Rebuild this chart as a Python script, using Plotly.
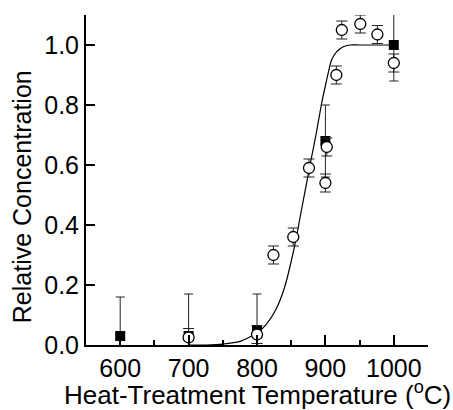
import plotly.graph_objects as go

# Filled squares
sq_x = [600, 700, 800, 900, 1000]
sq_y = [0.03, 0.03, 0.05, 0.68, 1.00]
sq_err = [0.13, 0.14, 0.12, 0.12, 0.12]

# Open circles
circ_x = [700, 800, 824, 853, 876, 902, 900, 916, 924, 951, 976, 1000]
circ_y = [0.025, 0.035, 0.30, 0.36, 0.59, 0.66, 0.54, 0.90, 1.05, 1.07, 1.035, 0.94]
circ_err = [0.03, 0.03, 0.03, 0.03, 0.03, 0.03, 0.03, 0.03, 0.03, 0.03, 0.03, 0.03]

# Fit curve
fit_x = [700, 725, 750, 775, 800, 813, 828, 840, 855, 865, 875, 881, 887, 894, 901, 909, 916, 926, 936, 950, 1000]
fit_y = [0.0, 0.0, 0.003, 0.012, 0.04, 0.067, 0.12, 0.19, 0.33, 0.45, 0.57, 0.64, 0.71, 0.80, 0.875, 0.95, 0.976, 0.994, 1.0, 1.0, 1.0]

x_ticks = [600, 700, 800, 900, 1000]
y_ticks = [0.0, 0.2, 0.4, 0.6, 0.8, 1.0]

x_title = "Heat-Treatment Temperature (<sup>o</sup>C)"
y_title = "Relative Concentration"

FONT = "Arial, Liberation Sans, sans-serif"

fig = go.Figure()
fig.add_trace(go.Scatter(
    x=fit_x, y=fit_y, mode="lines",
    line=dict(color="black", width=1.2, shape="spline", smoothing=0.6),
    showlegend=False, hoverinfo="skip"))
fig.add_trace(go.Scatter(
    x=sq_x, y=sq_y, mode="markers",
    marker=dict(symbol="square", size=10, color="black"),
    error_y=dict(type="data", array=sq_err, color="#222", thickness=1, width=4.5),
    showlegend=False))
fig.add_trace(go.Scatter(
    x=circ_x, y=circ_y, mode="markers",
    marker=dict(symbol="circle", size=11, color="white", line=dict(color="black", width=1.3)),
    error_y=dict(type="data", array=circ_err, color="#222", thickness=1, width=5.5),
    showlegend=False))

fig.update_layout(
    width=453, height=410,
    margin=dict(l=86, r=25, t=15, b=65),
    paper_bgcolor="white", plot_bgcolor="white",
    font=dict(family=FONT, size=25, color="black"),
    xaxis=dict(
        range=[550, 1050], tickvals=x_ticks, ticktext=[str(v) for v in x_ticks],
        ticks="inside", ticklen=10, tickwidth=2, tickcolor="black",
        showline=True, linewidth=2, linecolor="black", showgrid=False, zeroline=False,
        minor=dict(ticks="inside", ticklen=5, tickwidth=1.5, tickcolor="black", tick0=550, dtick=50),
        tickfont=dict(size=25), ticklabelstandoff=0, automargin=False,
    ),
    yaxis=dict(
        range=[0, 1.1], tickvals=y_ticks, ticktext=[f"{v:.1f}" for v in y_ticks],
        ticks="inside", ticklen=9, tickwidth=2, tickcolor="black",
        showline=True, linewidth=2, linecolor="black", showgrid=False, zeroline=False,
        tickfont=dict(size=25), automargin=False,
    ),
    annotations=[
        dict(text=x_title, xref="paper", yref="paper", x=0.5, y=-0.203,
             xanchor="center", yanchor="bottom", showarrow=False, font=dict(size=26)),
        dict(text=y_title, xref="paper", yref="paper", x=-0.187, y=0.448,
             xanchor="center", yanchor="middle", textangle=-90, showarrow=False, font=dict(size=25)),
    ],
)

fig.write_html("out.html")
